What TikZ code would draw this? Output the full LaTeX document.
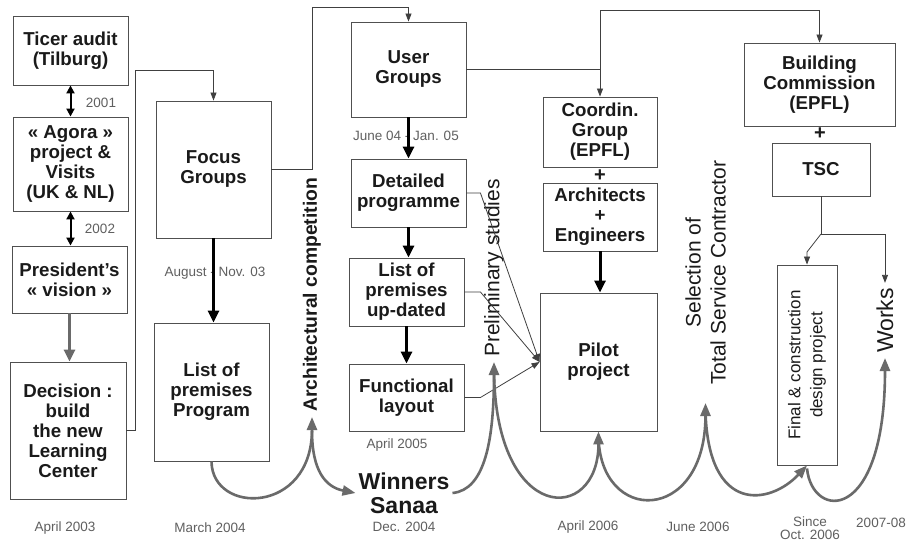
\documentclass[tikz,border=0pt]{standalone}
\usepackage{fontspec}
\setmainfont{Liberation Sans}
\usetikzlibrary{arrows.meta,calc}
\definecolor{boxcol}{HTML}{505050}
\definecolor{linecol}{HTML}{404040}
\definecolor{datecol}{HTML}{606060}
\definecolor{arccol}{HTML}{6A6A6A}
\definecolor{txtcol}{HTML}{1A1A1A}
\begin{document}
\begin{tikzpicture}[x=1pt,y=-1pt,
  box/.style={draw=boxcol, line width=0.9pt, align=center, inner sep=0pt, text=txtcol,
    font=\bfseries\fontsize{18.7}{20}\selectfont},
  dt/.style={text=datecol, font=\fontsize{13.5}{15}\selectfont, inner sep=1pt, align=center},
  vlab/.style={rotate=90, anchor=west, inner xsep=5pt, inner ysep=2pt, text=txtcol,
    font=\fontsize{21}{25}\selectfont, align=center},
  thinarrow/.style={draw=linecol, line width=0.8pt, -{Triangle[length=8pt,width=6pt]}},
  bigarrow/.style={draw=black, line width=3pt, -{Triangle[length=12pt,width=11pt]}},
  dblarrow/.style={draw=black, line width=2pt, {Triangle[length=8pt,width=8pt]}-{Triangle[length=8pt,width=8pt]}},
  grayarrow/.style={draw=arccol, line width=3pt, -{Triangle[length=12pt,width=11pt]}},
  arcline/.style={draw=arccol, line width=2.6pt, -{Triangle[length=13pt,width=10pt]}},
  plus/.style={font=\bfseries\fontsize{20}{20}\selectfont, text=txtcol, inner sep=0pt},
]
\useasboundingbox (0,0) rectangle (910,541);
\fill[white] (0,0) rectangle (910,541);

% ---- boxes ----
\node[box, minimum width=115pt, minimum height=69pt] (ticer) at (70.5,50.5) {Ticer audit\\(Tilburg)};
\node[box, minimum width=115pt, minimum height=94pt] (agora) at (70.5,164) {« Agora »\\project \&\\Visits\\(UK \& NL)};
\node[box, minimum width=115pt, minimum height=67pt] (pres) at (69.5,279.5) {President’s\\« vision »};
\node[box, minimum width=116pt, minimum height=137pt] (decision) at (68,430.5) {Decision :\\build\\the new\\Learning\\Center};
\node[box, minimum width=115pt, minimum height=137pt] (focus) at (213.5,169.5) {Focus\\Groups};
\node[box, minimum width=115pt, minimum height=138pt] (listprem) at (211.5,392) {List of\\premises\\Program};
\node[box, minimum width=115pt, minimum height=95pt] (ug) at (408.5,69.5) {User\\Groups};
\node[box, minimum width=115pt, minimum height=68pt] (detprog) at (408.5,193) {Detailed\\programme};
\node[box, minimum width=115pt, minimum height=68pt] (listup) at (406.5,292) {List of\\premises\\up-dated};
\node[box, minimum width=115pt, minimum height=67pt] (func) at (406.5,397.5) {Functional\\layout};
\node[box, minimum width=114pt, minimum height=70pt] (coord) at (600,132) {Coordin.\\Group\\(EPFL)};
\node[box, minimum width=114pt, minimum height=68pt] (archeng) at (600,217) {Architects\\+\\Engineers};
\node[box, minimum width=117pt, minimum height=138pt] (pilot) at (598.5,362) {Pilot\\project};
\node[box, minimum width=151pt, minimum height=83pt] (bcomm) at (819.5,84.5) {Building\\Commission\\(EPFL)};
\node[box, minimum width=98pt, minimum height=53pt] (tsc) at (821,169.5) {TSC};
\node[box, minimum width=60pt, minimum height=200pt] (final) at (807,365) {};
\node[rotate=90, align=center, text=txtcol, font=\fontsize{17}{22}\selectfont, inner sep=0pt] (finaltxt) at (final.center) {Final \& construction\\design project};

\node[plus] (plus1) at (600,176) {+};
\node[plus] (plus2) at (820,134) {+};

% ---- vertical labels ----
\node[vlab, font=\bfseries\fontsize{19.3}{25}\selectfont] (archcomp) at (312,417) {Architectural competition};
\node[vlab] (prelim) at (494,362) {Preliminary studies};
\node[vlab] (selection) at (705.5,390) {Selection of\\Total Service Contractor};
\node[vlab, font=\fontsize{23}{25}\selectfont] (works) at (885,358) {Works};
\coordinate (selpeak) at (705.5,403);

\node[align=center, text=txtcol, font=\bfseries\fontsize{23}{24}\selectfont, inner sep=3pt] (winners) at (404,493) {Winners\\Sanaa};

% ---- date labels ----
\node[dt] (d2001) at (101,103) {2001};
\node[dt] (d2002) at (100,229) {2002};
\node[dt] (daug) at (215,273) {August - Nov. 03};
\node[dt] (djune) at (406,136) {June 04 - Jan. 05};
\node[dt] (dapr05) at (397,445) {April 2005};
\node[dt] (dapr03) at (65,528) {April 2003};
\node[dt] (dmar04) at (210,528) {March 2004};
\node[dt] (ddec04) at (404,527) {Dec. 2004};
\node[dt] (dapr06) at (588,527) {April 2006};
\node[dt] (djun06) at (698,527) {June 2006};
\node[dt, font=\fontsize{13.5}{13}\selectfont] (dsince) at (810,528) {Since\\Oct. 2006};
\node[dt] (d0708) at (881,523) {2007-08};

% ---- vertical arrows ----
\draw[dblarrow] (ticer.south) -- (ticer.south |- agora.north);
\draw[dblarrow] (agora.south) -- (agora.south |- pres.north);
\draw[grayarrow] (pres.south) -- (pres.south |- decision.north);
\draw[bigarrow] (focus.south) -- (focus.south |- listprem.north);
\draw[bigarrow] (ug.south) -- (detprog.north);
\draw[bigarrow] (detprog.south) -- (detprog.south |- listup.north);
\draw[bigarrow] (listup.south) -- (func.north);
\draw[bigarrow] (archeng.south) -- (archeng.south |- pilot.north);

% ---- thin connectors ----
\draw[thinarrow] (decision.east) -- (135,430.5) -- (135,70) -| (focus.north);
\draw[thinarrow] (focus.east) -- (312,169.5) -- (312,7) -| (ug.north);
\draw[thinarrow] (ug.east) -| (coord.north);
\draw[thinarrow] (ug.east -| coord.north) -- (600,10) -| (bcomm.north);
\draw[thinarrow] (tsc.south) -- (821,234) -| (works.east);
\draw[thinarrow] (821,234) -- (807,252) -- (final.north);
\draw[thinarrow] (detprog.east) -- ++(14,0) -- (pilot.west);
\draw[thinarrow] (listup.east) -- ++(16,0) -- (pilot.west);
\draw[thinarrow] (func.east) -- ++(16,0) -- (pilot.west);

% ---- timeline arcs ----
\draw[arcline] (listprem.south) .. controls (212,515) and (312,515) .. (archcomp.west);
\draw[arcline] ($(archcomp.west)+(0,14)$) .. controls (312,470) and (325,487) .. (winners.west);
\draw[arcline] (winners.east) .. controls (485,490) and (494,440) .. (prelim.west);
\draw[arcline] ($(prelim.west)+(0,8)$) .. controls (495,525) and (598.5,525) .. (pilot.south);
\draw[arcline] ($(pilot.south)+(0,4)$) .. controls (599,525) and (705.5,525) .. (selpeak);
\draw[arcline] ($(selpeak)+(0,8)$) .. controls (708,515) and (770,505) .. (final.south);
\draw[arcline] ($(final.south)+(0,3)$) .. controls (812,520) and (885,525) .. (works.west);
\end{tikzpicture}
\end{document}
